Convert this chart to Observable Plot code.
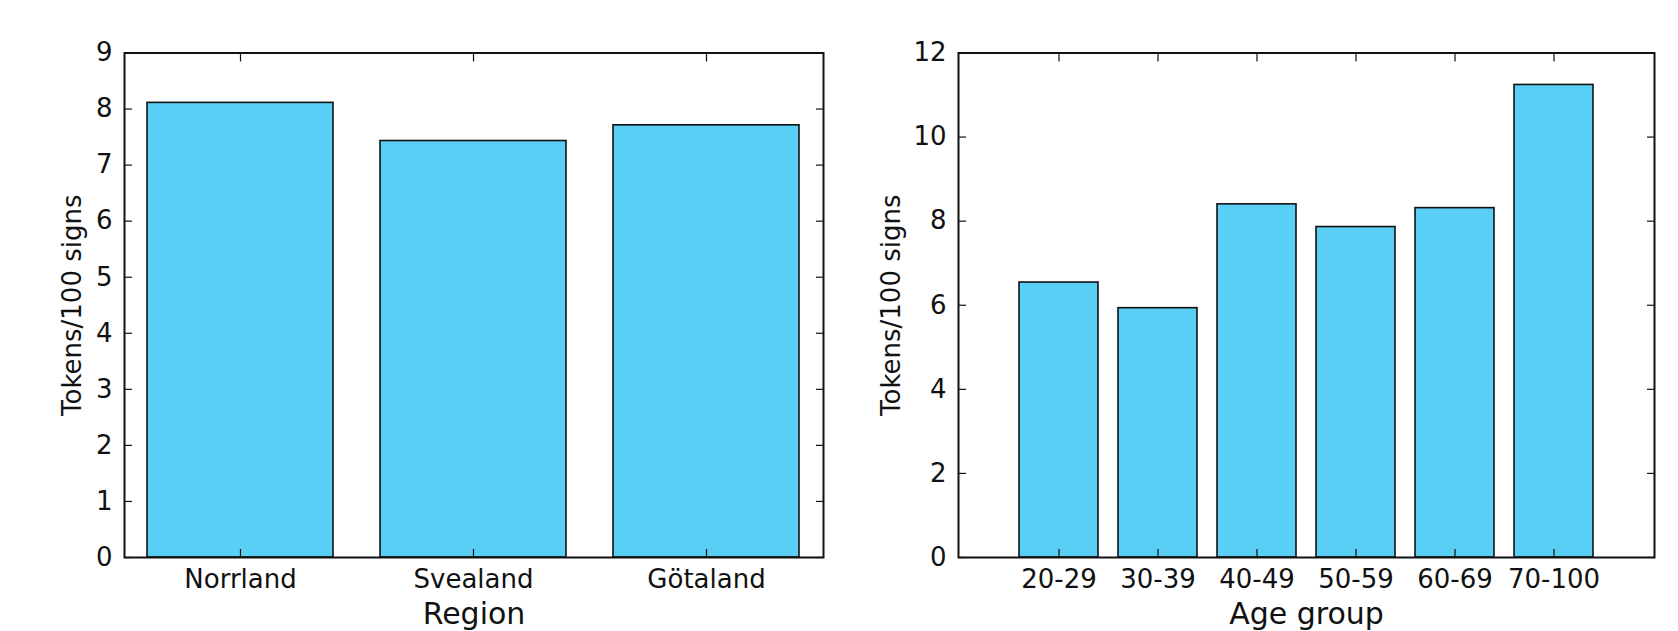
<!DOCTYPE html>
<html>
<head>
<meta charset="utf-8">
<script src="https://cdn.jsdelivr.net/npm/d3@7"></script>
<script src="https://cdn.jsdelivr.net/npm/@observablehq/plot@0.6"></script>
<style>
  html, body { margin: 0; padding: 0; background: white; overflow: hidden; }
  #wrap { display: flex; flex-direction: row; width: 1678px; height: 631px; }
</style>
</head>
<body>
<div id="wrap"></div>
<script>
const regions = ["Norrland", "Svealand", "Götaland"];
const regionValues = [8.11, 7.43, 7.71];
const regionTicks = [0, 1, 2, 3, 4, 5, 6, 7, 8, 9];

const ageGroups = ["20-29", "30-39", "40-49", "50-59", "60-69", "70-100"];
const ageValues = [6.54, 5.93, 8.40, 7.86, 8.31, 11.24];
const ageTicks = [0, 2, 4, 6, 8, 10, 12];

const yTitle = "Tokens/100 signs";

function chart({cats, vals, yTicks, yMax, xLabel, marginLeft, marginRight, paddingOuter, yLabelDx}) {
  const data = cats.map((c, i) => ({c, v: vals[i]}));
  return Plot.plot({
    width: 839,
    height: 631,
    marginLeft,
    marginRight,
    marginTop: 52.5,
    marginBottom: 74,
    style: {fontFamily: "DejaVu Sans", fontSize: "26px", color: "#111", background: "white", overflow: "visible"},
    x: {type: "band", domain: cats, paddingInner: 0.2, paddingOuter, align: 0.5},
    y: {domain: [0, yMax]},
    marks: [
      Plot.barY(data, {x: "c", y: "v", fill: "#59CFF5", stroke: "#111", strokeWidth: 1.6}),
      Plot.axisX({anchor: "bottom", tickSize: 0, tickPadding: 12.5, label: null, fontSize: 26}),
      Plot.axisX({anchor: "bottom", tickSize: -8, tickFormat: () => "", label: null, strokeWidth: 1.2}),
      Plot.axisX({anchor: "top", tickSize: -8, tickFormat: () => "", label: null, strokeWidth: 1.2}),
      Plot.axisY({anchor: "left", ticks: yTicks, tickSize: 0, tickPadding: 12, label: null, fontSize: 26}),
      Plot.axisY({anchor: "left", ticks: yTicks, tickSize: -8, tickFormat: () => "", label: null, strokeWidth: 1.2}),
      Plot.axisY({anchor: "right", ticks: yTicks, tickSize: -8, tickFormat: () => "", label: null, strokeWidth: 1.2}),
      Plot.frame({stroke: "#111", strokeWidth: 2}),
      Plot.text([xLabel], {frameAnchor: "bottom", dy: 45, lineAnchor: "top", textAnchor: "middle", fontSize: 30, text: d => d, fill: "#111"}),
      Plot.text([yTitle], {frameAnchor: "left", dx: yLabelDx, rotate: -90, textAnchor: "middle", lineAnchor: "middle", fontSize: 26, text: d => d, fill: "#111"})
    ]
  });
}

const wrap = document.getElementById("wrap");
wrap.append(chart({
  cats: regions, vals: regionValues, yTicks: regionTicks, yMax: 9, xLabel: "Region",
  marginLeft: 124, marginRight: 16, paddingOuter: 0.1, yLabelDx: -52
}));
wrap.append(chart({
  cats: ageGroups, vals: ageValues, yTicks: ageTicks, yMax: 12, xLabel: "Age group",
  marginLeft: 119, marginRight: 24, paddingOuter: 0.6, yLabelDx: -67
}));
</script>
</body>
</html>
